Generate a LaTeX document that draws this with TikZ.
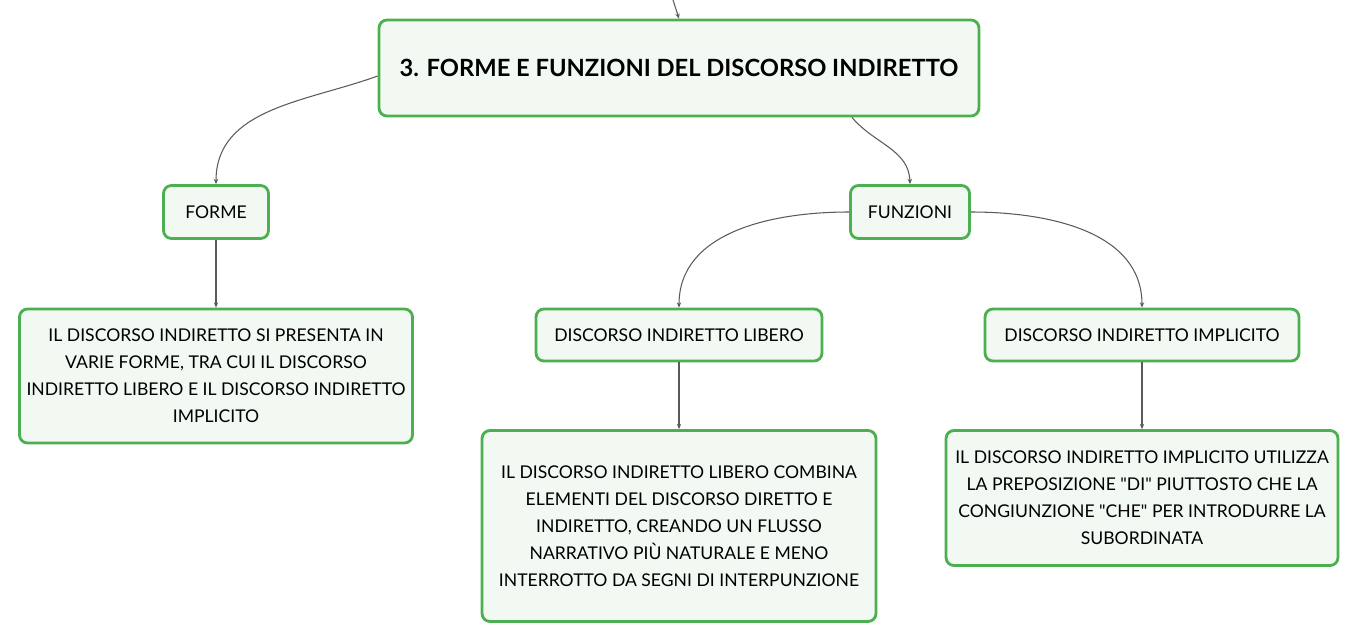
\documentclass[tikz,border=0pt]{standalone}
\usepackage{fontspec}
\setmainfont{Lato}
\usetikzlibrary{arrows.meta}
\definecolor{leaf}{RGB}{76,175,80}
\definecolor{mint}{RGB}{241,249,242}
\definecolor{wire}{RGB}{90,90,90}
\tikzset{
  box/.style={draw=leaf, fill=mint, line width=1.6pt, rounded corners=4.5pt,
    align=center, inner sep=0pt, font=\fontsize{10}{15.3}\selectfont},
  link/.style={draw=wire, line width=0.6pt, -{Stealth[length=3pt,width=2.5pt]}}
}
\begin{document}
\begin{tikzpicture}[x=0.02cm,y=-0.02cm]
\useasboundingbox (0,0) rectangle (1359,643);
% main topic
\node[box, minimum width=12cm, minimum height=1.92cm,
  font=\fontsize{13.5}{16}\selectfont\bfseries] (topic) at (679,68)
  {3. FORME E FUNZIONI DEL DISCORSO INDIRETTO};
\coordinate (up) at (673,0);
% branches
\node[box, minimum width=2.1cm, minimum height=1.06cm] (forme) at (216,212) {FORME};
\node[box, minimum width=2.38cm, minimum height=1.06cm] (funzioni) at (910,212) {FUNZIONI};
\node[box, minimum width=7.86cm, minimum height=2.68cm] (formetext) at (216,376)
  {IL DISCORSO INDIRETTO SI PRESENTA IN\\
   VARIE FORME, TRA CUI IL DISCORSO\\
   INDIRETTO LIBERO E IL DISCORSO INDIRETTO\\
   IMPLICITO};
\node[box, minimum width=5.72cm, minimum height=1.04cm] (libero) at (679,335)
  {DISCORSO INDIRETTO LIBERO};
\node[box, minimum width=6.28cm, minimum height=1.04cm] (implicito) at (1142,335)
  {DISCORSO INDIRETTO IMPLICITO};
\node[box, minimum width=7.88cm, minimum height=3.82cm] (liberotext) at (679,526)
  {IL DISCORSO INDIRETTO LIBERO COMBINA\\
   ELEMENTI DEL DISCORSO DIRETTO E\\
   INDIRETTO, CREANDO UN FLUSSO\\
   NARRATIVO PIÙ NATURALE E MENO\\
   INTERROTTO DA SEGNI DI INTERPUNZIONE};
\node[box, minimum width=7.84cm, minimum height=2.7cm] (implicitotext) at (1142,498)
  {IL DISCORSO INDIRETTO IMPLICITO UTILIZZA\\
   LA PREPOSIZIONE \textquotedbl DI\textquotedbl{} PIUTTOSTO CHE LA\\
   CONGIUNZIONE \textquotedbl CHE\textquotedbl{} PER INTRODURRE LA\\
   SUBORDINATA};
% connectors
\draw[link] (up) -- (topic.north);
\draw[link] ([yshift=-0.16cm]topic.west) to[out=200,in=90] (forme.north);
\draw[link] ([xshift=3.46cm]topic.south) to[out=-50,in=92] (funzioni.north);
\draw[link] (forme) -- (formetext);
\draw[link] (funzioni.west) to[out=180,in=90] (libero.north);
\draw[link] (funzioni.east) to[out=0,in=90] (implicito.north);
\draw[link] (libero) -- (liberotext);
\draw[link] (implicito) -- (implicitotext);
\end{tikzpicture}
\end{document}
